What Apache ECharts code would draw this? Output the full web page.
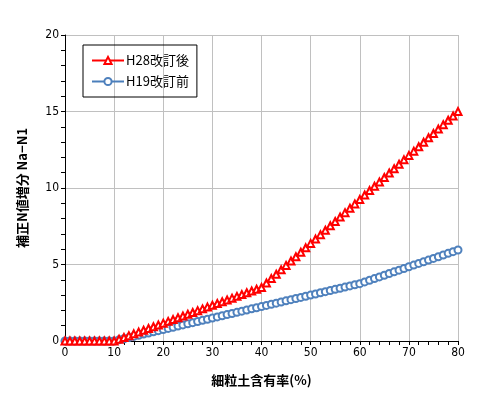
<!DOCTYPE html>
<html><head><meta charset="utf-8">
<script src="https://cdn.jsdelivr.net/npm/echarts@6/dist/echarts.min.js"></script>
<style>html,body{margin:0;padding:0;background:#fff}#c{width:485px;height:395px}</style>
</head><body><div id="c"></div>
<script>
var fines = [0,1,2,3,4,5,6,7,8,9,10,11,12,13,14,15,16,17,18,19,20,21,22,23,24,25,26,27,28,29,30,31,32,33,34,35,36,37,38,39,40,41,42,43,44,45,46,47,48,49,50,51,52,53,54,55,56,57,58,59,60,61,62,63,64,65,66,67,68,69,70,71,72,73,74,75,76,77,78,79,80];
var h28 = [0,0,0,0,0,0,0,0,0,0,0,
  0.117,0.233,0.35,0.467,0.583,0.7,0.817,0.933,1.05,1.167,1.283,1.4,1.517,1.633,1.75,1.867,1.983,2.1,2.217,2.333,2.45,2.567,2.683,2.8,2.917,3.033,3.15,3.267,3.383,3.5,
  3.79,4.08,4.36,4.65,4.94,5.23,5.51,5.8,6.09,6.38,6.66,6.95,7.24,7.53,7.81,8.1,8.39,8.68,8.96,9.25,9.54,9.83,10.11,10.4,10.69,10.98,11.26,11.55,11.84,12.13,12.41,12.7,12.99,13.28,13.56,13.85,14.14,14.43,14.71,15.0];
var h19 = [0,0,0,0,0,0,0,0,0,0,0,
  0.075,0.15,0.225,0.3,0.375,0.45,0.525,0.6,0.675,0.75,0.825,0.9,0.975,1.05,1.125,1.2,1.275,1.35,1.425,1.5,1.575,1.65,1.725,1.8,1.875,1.95,2.025,2.1,2.175,2.25,2.325,2.4,2.475,2.55,2.625,2.7,2.775,2.85,2.925,3.0,3.075,3.15,3.225,3.3,3.375,3.45,3.525,3.6,3.675,3.75,
  3.86,3.97,4.08,4.19,4.3,4.41,4.52,4.63,4.74,4.85,4.96,5.07,5.18,5.29,5.4,5.51,5.62,5.73,5.84,5.95];
var seriesNames = ['H28改訂後','H19改訂前'];
var xTitle = '細粒土含有率(%)';
var yTitle = '補正N値増分 Na−N1';

function pairs(ys){ return fines.map(function(x,i){ return [x, ys[i]]; }); }
var font = "'DejaVu Sans Condensed','Liberation Sans Narrow',sans-serif";
var cjk = "'Noto Sans CJK JP',sans-serif";
var chart = echarts.init(document.getElementById('c'), null, {renderer:'canvas'});
chart.setOption({
  animation:false,
  backgroundColor:'#fff',
  grid:{left:65,right:27,top:35,bottom:54,containLabel:false},
  legend:{
    orient:'vertical', left:83, top:45,
    borderColor:'#000', borderWidth:1, borderRadius:0, padding:[9,8,9,8],
    itemWidth:32, itemHeight:9, itemGap:8,
    textStyle:{fontFamily:cjk,fontSize:13,color:'#000',padding:[0,0,0,-3]},
    data:seriesNames
  },
  xAxis:{
    type:'value', min:0, max:80, interval:10,
    name:xTitle, nameLocation:'middle', nameGap:33,
    nameTextStyle:{fontFamily:cjk,fontSize:13,fontWeight:'bold',color:'#000'},
    axisLine:{lineStyle:{color:'#000',width:1}},
    axisTick:{show:true,length:4,lineStyle:{color:'#000'}},
    minorTick:{show:true,splitNumber:5,length:4,lineStyle:{color:'#000'}},
    axisLabel:{fontFamily:font,fontSize:12,color:'#000',margin:6},
    splitLine:{show:true,lineStyle:{color:'#c0c0c0',width:1}}
  },
  yAxis:{
    type:'value', min:0, max:20, interval:5,
    name:yTitle, nameLocation:'middle', nameGap:36, nameRotate:90,
    nameTextStyle:{fontFamily:cjk,fontSize:13,fontWeight:'bold',color:'#000'},
    axisLine:{show:true,lineStyle:{color:'#000',width:1}},
    axisTick:{show:true,length:4,lineStyle:{color:'#000'}},
    minorTick:{show:true,splitNumber:5,length:4,lineStyle:{color:'#000'}},
    axisLabel:{fontFamily:font,fontSize:12,color:'#000',margin:6},
    splitLine:{show:true,lineStyle:{color:'#c0c0c0',width:1}}
  },
  series:[
    {name:seriesNames[0],type:'line',data:pairs(h28),symbol:'emptyTriangle',symbolSize:7,
     lineStyle:{color:'#ff0000',width:2},itemStyle:{color:'#ff0000',borderColor:'#ff0000',borderWidth:1},z:3},
    {name:seriesNames[1],type:'line',data:pairs(h19),symbol:'emptyCircle',symbolSize:7,
     lineStyle:{color:'#4a7ebb',width:2},itemStyle:{color:'#4f81bd',borderColor:'#4f81bd',borderWidth:1},z:2}
  ]
});
</script></body></html>
